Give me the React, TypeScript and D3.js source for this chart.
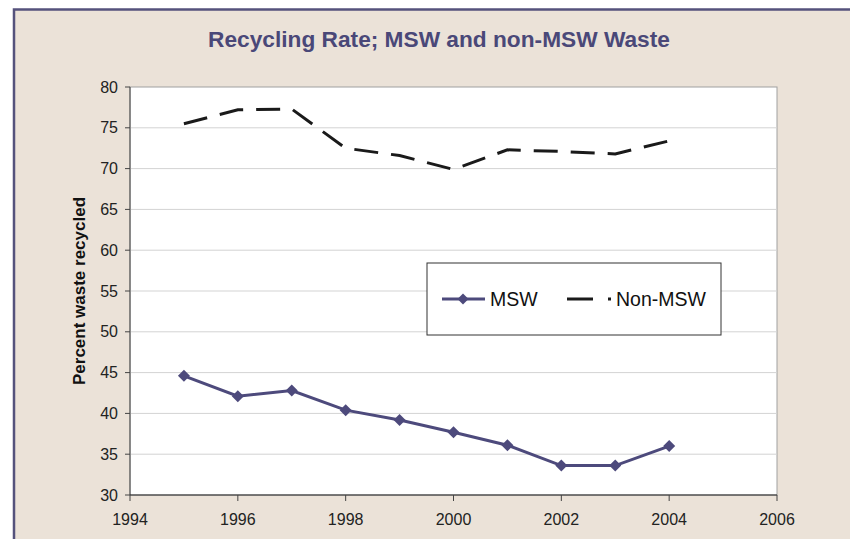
import React from 'react';
import * as d3 from 'd3';

// data
const years = [1995, 1996, 1997, 1998, 1999, 2000, 2001, 2002, 2003, 2004];
const msw = [44.6, 42.1, 42.8, 40.4, 39.2, 37.7, 36.1, 33.6, 33.6, 36.0];
const nonMsw = [75.5, 77.2, 77.3, 72.5, 71.6, 69.9, 72.3, 72.1, 71.8, 73.4];
const xTicks = [1994, 1996, 1998, 2000, 2002, 2004, 2006];
const yTicks = [30, 35, 40, 45, 50, 55, 60, 65, 70, 75, 80];

const W = 850,
  H = 539;
const margin = { top: 87, right: 73, bottom: 44, left: 130 };
const purple = '#4d4a7c';

export default function App() {
  const x = d3
    .scaleLinear()
    .domain([1994, 2006])
    .range([margin.left, W - margin.right]);
  const y = d3
    .scaleLinear()
    .domain([30, 80])
    .range([H - margin.bottom, margin.top]);

  const line = d3
    .line<number>()
    .x((d, i) => x(years[i]))
    .y((d) => y(d));

  const diamond = (cx: number, cy: number, r: number) =>
    `M${cx},${cy - r}L${cx + r},${cy}L${cx},${cy + r}L${cx - r},${cy}Z`;

  const x0 = x.range()[0],
    x1 = x.range()[1];
  const y0 = y.range()[0],
    y1 = y.range()[1];

  return (
    <svg
      width={W}
      height={H}
      style={{ position: 'absolute', left: 0, top: 0 }}
      fontFamily="'Liberation Sans', Arial, sans-serif"
    >
      <rect x={0} y={0} width={W} height={H} fill="#fff" />
      {/* framed background */}
      <rect x={14} y={9.5} width={W} height={H} fill="#ebe2d8" stroke="#55527c" strokeWidth={2.5} />

      <text x={439} y={47} textAnchor="middle" fontSize={22.7} fontWeight="bold" fill="#4a4878">
        Recycling Rate; MSW and non-MSW Waste
      </text>

      {/* plot area */}
      <rect x={x0} y={y1} width={x1 - x0} height={y0 - y1} fill="#fff" stroke="#a0a0a0" strokeWidth={1} />
      {yTicks.slice(1, -1).map((t) => (
        <line key={'g' + t} x1={x0} x2={x1} y1={y(t)} y2={y(t)} stroke="#d3d3d3" strokeWidth={1} />
      ))}

      {/* y axis */}
      <line x1={x0} x2={x0} y1={y1} y2={y0} stroke="#444" strokeWidth={1} />
      {yTicks.map((t) => (
        <g key={'y' + t}>
          <line x1={x0 - 5} x2={x0} y1={y(t)} y2={y(t)} stroke="#444" />
          <text x={x0 - 12} y={y(t)} dy="0.35em" textAnchor="end" fontSize={16} fill="#222">
            {t}
          </text>
        </g>
      ))}

      {/* x axis */}
      <line x1={x0} x2={x1} y1={y0} y2={y0} stroke="#222" strokeWidth={1.2} />
      {xTicks.map((t) => (
        <g key={'x' + t}>
          <line x1={x(t)} x2={x(t)} y1={y0} y2={y0 + 6} stroke="#444" />
          <text x={x(t)} y={y0 + 30} textAnchor="middle" fontSize={16} fill="#222">
            {t}
          </text>
        </g>
      ))}

      <text
        transform={`translate(85,${(y0 + y1) / 2}) rotate(-90)`}
        textAnchor="middle"
        fontSize={17}
        fontWeight="bold"
        fill="#111"
      >
        Percent waste recycled
      </text>

      {/* series */}
      <path d={line(nonMsw) || ''} fill="none" stroke="#1a1a1a" strokeWidth={3} strokeDasharray="24 13" />
      <path d={line(msw) || ''} fill="none" stroke={purple} strokeWidth={3} />
      {msw.map((v, i) => (
        <path key={'m' + i} d={diamond(x(years[i]), y(v), 6)} fill={purple} />
      ))}

      {/* legend */}
      <rect x={427} y={263} width={294} height={72} fill="#fff" stroke="#333" strokeWidth={1} />
      <line x1={442} x2={485} y1={299} y2={299} stroke={purple} strokeWidth={3} />
      <path d={diamond(463, 299, 5.5)} fill={purple} />
      <text x={490} y={299} dy="0.35em" fontSize={19.5} fill="#111">
        MSW
      </text>
      <line x1={567} x2={611} y1={299} y2={299} stroke="#1a1a1a" strokeWidth={3} strokeDasharray="26 15" />
      <text x={616} y={299} dy="0.35em" fontSize={19.5} fill="#111">
        Non-MSW
      </text>
    </svg>
  );
}
